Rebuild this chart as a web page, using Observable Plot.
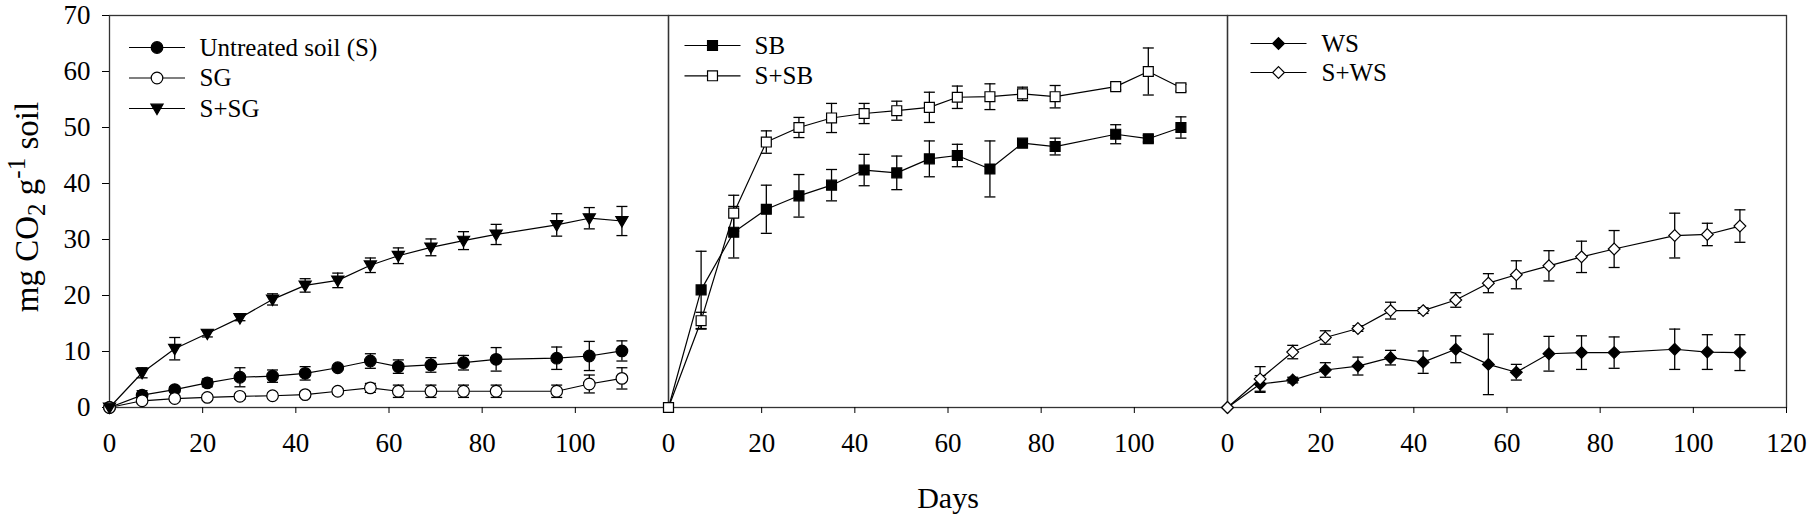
<!DOCTYPE html>
<html><head><meta charset="utf-8">
<script src="https://cdn.jsdelivr.net/npm/d3@7"></script>
<script src="https://cdn.jsdelivr.net/npm/@observablehq/plot@0.6"></script>
<style>body{margin:0;background:#fff} svg text{font-family:'Liberation Serif','Times New Roman',serif}</style>
</head><body><div id="chart"></div>
<script>
// ---------- data ----------
const days = [0,7,14,21,28,35,42,49,56,62,69,76,83,96,103,110];
const panels = ["P1","P2","P3"];
const seriesNames = ["Untreated soil (S)","SG","S+SG","SB","S+SB","WS","S+WS"];
const seriesPanel = ["P1","P1","P1","P2","P2","P3","P3"];

const valS    = [0,2.2,3.2,4.4,5.4,5.6,6.1,7.1,8.3,7.3,7.6,8.0,8.6,8.8,9.2,10.1];
const errS    = [0,0.8,0.5,0.7,1.7,1.1,1.2,0.4,1.3,1.2,1.3,1.3,2.1,2.0,2.6,1.8];
const valSG   = [0,1.2,1.6,1.8,2.0,2.1,2.3,2.9,3.5,2.9,2.9,2.9,2.9,2.9,4.2,5.2];
const errSG   = [0,0.5,0.5,0.5,0.5,0.5,0.5,0.5,0.8,1.1,1.1,1.1,1.1,1.1,1.6,1.9];
const valSSG  = [0,6.2,10.5,13.2,16.0,19.3,21.8,22.7,25.4,27.1,28.6,29.8,30.9,32.6,33.8,33.3];
const errSSG  = [0,0.9,2.0,0.6,0.5,1.0,1.2,1.3,1.3,1.4,1.5,1.6,1.8,2.0,1.9,2.6];
const valSB   = [0,21.0,31.3,35.4,37.8,39.7,42.4,41.9,44.4,45.0,42.6,47.2,46.6,48.8,48.0,50.0];
const errSB   = [0,6.9,4.6,4.3,3.8,2.8,2.8,3.0,3.2,2.0,5.0,0.5,1.5,1.7,0.6,1.9];
const valSSB  = [0,15.5,34.7,47.4,50.0,51.7,52.5,53.0,53.6,55.4,55.5,56.0,55.5,57.3,60.0,57.1];
const errSSB  = [0,1.5,3.2,2.0,1.8,2.6,1.8,1.7,2.7,2.0,2.3,1.2,2.0,0.6,4.2,0.6];
const valWS   = [0,4.2,4.9,6.7,7.4,8.9,8.1,10.4,7.7,6.3,9.6,9.8,9.8,10.4,9.9,9.8];
const errWS   = [0,1.5,0.5,1.3,1.6,1.3,2.0,2.4,5.4,1.4,3.1,3.0,2.8,3.6,3.1,3.2];
const valSWS  = [0,5.1,9.9,12.5,14.1,17.3,17.3,19.2,22.2,23.7,25.3,26.9,28.3,30.7,30.9,32.4];
const errSWS  = [0,2.2,1.2,1.2,0.5,1.5,0.5,1.3,1.7,2.5,2.7,2.8,3.3,4.0,2.0,2.9];

const seriesValues = [valS,valSG,valSSG,valSB,valSSB,valWS,valSWS];
const seriesErrors = [errS,errSG,errSSG,errSB,errSSB,errWS,errSWS];

const xTicks = [0,20,40,60,80,100];
const xTicksLast = [120];
const yTicks = [0,10,20,30,40,50,60,70];

// ---------- styles ----------
const FONT = "'Liberation Serif','Times New Roman',serif";
const sym = (f) => ({draw(ctx, size){ f(ctx, Math.sqrt(size/Math.PI)); }});
const triDown = sym((c,R)=>{c.moveTo(-1.05*R,-0.75*R);c.lineTo(1.05*R,-0.75*R);c.lineTo(0,1.05*R);c.closePath();});
const hline = sym((c,R)=>{c.moveTo(-R,0);c.lineTo(R,0);});
const seriesStyle = [
  {symbol:"circle", fill:"black", r:5.8},
  {symbol:"circle", fill:"white", r:5.8},
  {symbol:triDown, fill:"black", r:5.8},
  {symbol:"square", fill:"black", r:5.6},
  {symbol:"square", fill:"white", r:5.6},
  {symbol:"diamond2", fill:"black", r:5.3},
  {symbol:"diamond2", fill:"white", r:5.3}
];
const legendLayout = {
  P1:{x:47.5, tx:90, y0:32, step:30.5},
  P2:{x:44, tx:86, y0:30, step:30.3},
  P3:{x:51, tx:94, y0:28, step:29}
};

// ---------- table ----------
const rows = [];
seriesNames.forEach((name,i)=>{
  days.forEach((d,j)=>rows.push({series:name, panel:seriesPanel[i], day:d, value:seriesValues[i][j], err:seriesErrors[i][j]}));
});
const errRows = rows.filter(d=>d.err>0);

const axisText = {fontSize:27, fontFamily:FONT, label:null};
const marks = [
  Plot.frame({stroke:"#333", strokeWidth:1.3}),
  Plot.axisY({ticks:yTicks, tickSize:7, tickPadding:12, ...axisText}),
  Plot.axisX({ticks:xTicks, tickSize:6, tickPadding:19, ...axisText}),
  Plot.axisX({ticks:xTicksLast, tickSize:6, tickPadding:19, ...axisText, facetAnchor:"right"}),
  Plot.line(rows, {x:"day", y:"value", z:"series", fx:"panel", stroke:"black", strokeWidth:1.2}),
  Plot.ruleX(errRows, {x:"day", y1:d=>d.value-d.err, y2:d=>d.value+d.err, fx:"panel", stroke:"black", strokeWidth:1.3}),
  Plot.dot(errRows, {x:"day", y:d=>d.value+d.err, fx:"panel", symbol:hline, r:5.5, stroke:"black", fill:"none", strokeWidth:1.3}),
  Plot.dot(errRows, {x:"day", y:d=>d.value-d.err, fx:"panel", symbol:hline, r:5.5, stroke:"black", fill:"none", strokeWidth:1.3})
];
seriesNames.forEach((name,i)=>{
  const st = seriesStyle[i];
  marks.push(Plot.dot(rows.filter(d=>d.series===name), {x:"day", y:"value", fx:"panel", symbol:st.symbol, fill:st.fill, r:st.r, stroke:"black", strokeWidth:1.2}));
});
// legends
const rowIndex = {};
seriesNames.forEach((name,i)=>{
  const p = seriesPanel[i];
  const k = rowIndex[p] = (rowIndex[p] ?? -1) + 1;
  const L = legendLayout[p];
  const st = seriesStyle[i];
  const item = [{panel:p, label:name}];
  const dy = L.y0 + k*L.step;
  marks.push(Plot.dot(item, {fx:"panel", frameAnchor:"top-left", dx:L.x, dy, symbol:hline, r:28, stroke:"black", fill:"none", strokeWidth:1.2}));
  marks.push(Plot.dot(item, {fx:"panel", frameAnchor:"top-left", dx:L.x, dy, symbol:st.symbol, r:st.r, fill:st.fill, stroke:"black", strokeWidth:1.2}));
  marks.push(Plot.text(item, {fx:"panel", text:"label", frameAnchor:"top-left", dx:L.tx, dy, textAnchor:"start", lineAnchor:"middle", fontSize:25, fontFamily:FONT, fill:"black"}));
});
marks.push(Plot.text([{panel:panels[1], t:"Days"}], {fx:"panel", text:"t", frameAnchor:"bottom", dy:91, lineAnchor:"middle", fontSize:30, fontFamily:FONT, fill:"black"}));

const chart = Plot.plot({
  width:1810, height:517,
  marginLeft:109, marginRight:24, marginTop:15, marginBottom:110,
  style:{fontFamily:FONT, background:"white", color:"black"},
  fx:{domain:panels, padding:0, axis:null},
  x:{domain:[0,120]},
  y:{domain:[0,70]},
  marks
});
document.getElementById("chart").appendChild(chart);

// y-axis title with sub/superscript
const yc = chart.scale("y").apply(35) - 4;
const t = d3.select(chart).append("text")
  .attr("transform", `translate(38,${yc}) rotate(-90)`)
  .attr("text-anchor","middle")
  .style("font-family", FONT).style("font-size","33px").attr("fill","black");
t.append("tspan").text("mg CO");
t.append("tspan").attr("dy",7).style("font-size","25px").text("2");
t.append("tspan").attr("dy",-7).text(" g");
t.append("tspan").attr("dy",-13).style("font-size","25px").text("-1");
t.append("tspan").attr("dy",13).text(" soil");
</script></body></html>
